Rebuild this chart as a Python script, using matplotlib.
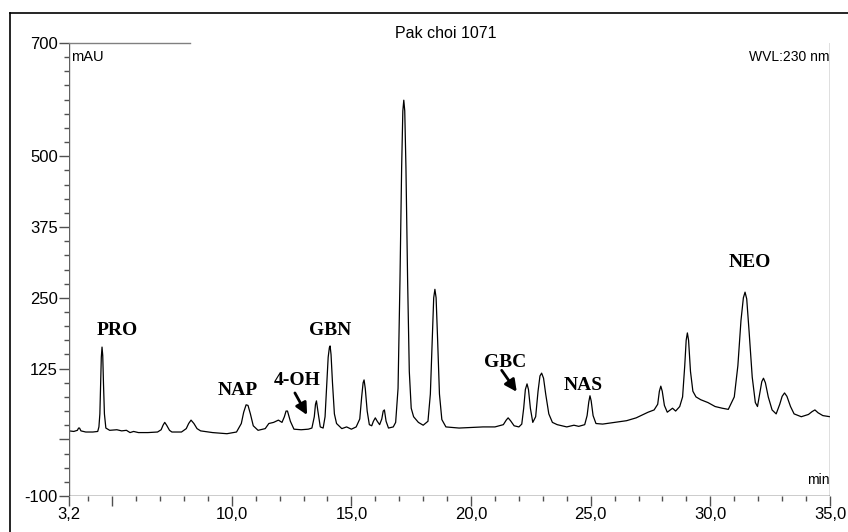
import matplotlib
matplotlib.use("Agg")
import matplotlib.pyplot as plt
from matplotlib.lines import Line2D

# retention time (min) and absorbance (mAU)
rt = [3.2, 3.4, 3.55, 3.6, 3.64, 3.7, 3.9, 4.2, 4.4,
      4.45, 4.49, 4.52, 4.55, 4.58, 4.61, 4.64, 4.68, 4.74,
      4.9, 5.2, 5.4, 5.6, 5.75, 5.9, 6.1, 6.5, 6.9,
      7.05, 7.13, 7.2, 7.28, 7.4, 7.5, 7.9,
      8.1, 8.2, 8.3, 8.42, 8.55, 8.7, 9.2, 9.8, 10.2,
      10.4, 10.5, 10.6, 10.68, 10.78, 10.9, 11.1, 11.4,
      11.55, 11.75, 11.95, 12.1, 12.2, 12.27, 12.33, 12.45, 12.6, 12.9, 13.2,
      13.35, 13.45, 13.5, 13.54, 13.6, 13.7,
      13.82, 13.9, 13.97, 14.03, 14.08, 14.11, 14.15, 14.21, 14.29, 14.38,
      14.6, 14.8, 15.0, 15.2, 15.35, 15.43, 15.49, 15.53, 15.58, 15.66, 15.75,
      15.85, 15.92, 16.0, 16.08, 16.18, 16.27, 16.33, 16.38, 16.45, 16.55,
      16.75, 16.85, 16.95, 17.03, 17.1, 17.15, 17.19, 17.23, 17.28, 17.35,
      17.42, 17.5, 17.6, 17.8, 18.0,
      18.2, 18.3, 18.38, 18.44, 18.49, 18.54, 18.6, 18.68, 18.78, 18.95,
      19.5, 20.0, 20.5, 21.0, 21.35, 21.47, 21.55, 21.65, 21.8, 22.0,
      22.12, 22.2, 22.27, 22.34, 22.4, 22.48, 22.58,
      22.7, 22.8, 22.88, 22.95, 23.03, 23.12, 23.25, 23.4,
      23.6, 24.0, 24.3, 24.5, 24.75,
      24.85, 24.92, 24.97, 25.02, 25.1, 25.22, 25.5, 26.0, 26.5,
      26.9, 27.2, 27.4, 27.65, 27.8, 27.87, 27.93, 27.99, 28.08, 28.2,
      28.33, 28.42, 28.55, 28.72,
      28.84, 28.93, 28.99, 29.04, 29.09, 29.17, 29.27, 29.4,
      29.6, 29.9, 30.2, 30.5, 30.75,
      31.0, 31.15, 31.28, 31.38, 31.45, 31.52, 31.62, 31.75, 31.88, 31.97,
      32.07, 32.15, 32.22, 32.3, 32.42, 32.58, 32.75,
      32.9, 33.0, 33.1, 33.2, 33.35, 33.5, 33.8, 34.1, 34.25, 34.37, 34.5,
      34.7, 35.0]
mau = [15, 14, 16, 20, 20, 15, 13, 13, 14,
       22, 45, 95, 145, 163, 148, 100, 45, 20,
       16, 17, 15, 16, 12, 14, 12, 12, 13,
       17, 25, 30, 25, 16, 13, 13,
       19, 28, 34, 28, 19, 15, 12, 10, 13,
       28, 48, 61, 60, 45, 24, 16, 19,
       28, 30, 34, 30, 40, 50, 50, 32, 18, 17, 18,
       20, 40, 62, 68, 50, 22,
       20, 40, 95, 145, 162, 165, 150, 100, 45, 28,
       19, 22, 18, 22, 36, 75, 100, 105, 90, 50, 26,
       24, 32, 38, 32, 26, 36, 50, 52, 32, 20,
       22, 30, 90, 280, 480, 580, 599, 580, 480, 280,
       120, 55, 40, 30, 25,
       32, 80, 180, 250, 265, 250, 180, 80, 35, 22,
       20, 21, 22, 22, 26, 34, 38, 33, 24, 22,
       27, 55, 88, 98, 88, 55, 30,
       40, 85, 112, 117, 108, 80, 45, 30,
       26, 22, 25, 23, 26,
       42, 66, 77, 68, 42, 28, 27, 30, 33,
       38, 44, 48, 52, 62, 85, 94, 85, 60, 48,
       52, 55, 50, 58,
       75, 130, 175, 188, 175, 120, 85, 75,
       70, 65, 58, 55, 53,
       75, 130, 210, 250, 260, 248, 190, 110, 65, 58,
       82, 102, 108, 100, 75, 52, 45,
       62, 76, 82, 76, 58, 45, 40, 44, 49, 52, 47,
       42, 40]

# peak names and where they are written
peak_names = ["PRO", "NAP", "4-OH", "GBN", "GBC", "NAS", "NEO"]
name_rt = [5.2, 10.25, 12.72, 14.1, 21.44, 24.7, 31.65]
name_mau = [192, 86, 104, 193, 136, 95, 313]

# arrows for the two small peaks: (tail rt, tail mau, head rt, head mau)
arrows = [(12.64, 82, 13.15, 43), (21.28, 122, 21.91, 84)]

x_major = [3.2, 5, 10, 15, 20, 25, 30, 35]
x_labels = ["3,2", "", "10,0", "15,0", "20,0", "25,0", "30,0", "35,0"]
x_minor = [4, 6, 7, 8, 9, 11, 12, 13, 14, 16, 17, 18, 19, 21, 22, 23, 24,
           26, 27, 28, 29, 31, 32, 33, 34]
y_major = [-100, 0, 125, 250, 375, 500, 700]
y_labels = ["-100", "", "125", "250", "375", "500", "700"]
y_minor = list(range(-75, 700, 25))

W, H = 848, 532
fig = plt.figure(figsize=(W / 100, H / 100), dpi=100)
ax = fig.add_axes([69 / W, (H - 496) / H, (830 - 69) / W, (496 - 43) / H])

ax.plot(rt, mau, color="black", lw=0.9)
ax.set_xlim(3.2, 35.0)
ax.set_ylim(-100, 700)

for s in ["top", "right", "left", "bottom"]:
    ax.spines[s].set_visible(False)
ax.axvline(3.2, color="#606060", lw=1.0)
ax.axvline(35.0, color="#606060", lw=1.0)
ax.axhline(-100, color="black", lw=1.0)
ax.plot([3.2, 8.25], [700, 700], color="#808080", lw=1.0, clip_on=False)

ax.set_xticks(x_major)
ax.set_xticklabels(x_labels)
ax.set_xticks(x_minor, minor=True)
ax.set_yticks(y_major)
ax.set_yticklabels(y_labels)
ax.set_yticks(y_minor, minor=True)
ax.tick_params(which="major", length=7, width=1, color="#505050",
               labelsize=12, pad=1)
ax.tick_params(which="minor", length=3.5, width=1, color="#505050")
for lab in ax.get_xticklabels() + ax.get_yticklabels():
    lab.set_fontfamily("Liberation Sans")

ax.text(3.3, 688, "mAU", ha="left", va="top", fontsize=10.5,
        family="Liberation Sans")
ax.text(34.97, 688, "WVL:230 nm", ha="right", va="top", fontsize=10,
        family="Liberation Sans")
ax.text(34.97, -84, "min", ha="right", va="bottom", fontsize=10,
        family="Liberation Sans")
fig.text(446 / W, 1 - 33 / H, "Pak choi 1071", ha="center", va="center",
         fontsize=11.5, family="Liberation Sans")

for name, x, y in zip(peak_names, name_rt, name_mau):
    ax.text(x, y, name, ha="center", va="center", fontsize=14,
            fontweight="bold", family="Liberation Serif")

for x0, y0, x1, y1 in arrows:
    ax.annotate("", xy=(x1, y1), xytext=(x0, y0),
                arrowprops=dict(arrowstyle="-|>,head_length=0.7,head_width=0.35",
                                color="black", lw=2, shrinkA=0, shrinkB=0))

# outer frame, cut by the right and bottom edges
fig.add_artist(Line2D([10 / W, 10 / W], [0, 1 - 13 / H], color="black", lw=1.2))
fig.add_artist(Line2D([10 / W, 1], [1 - 13 / H, 1 - 13 / H], color="black", lw=1.2))

fig.savefig("out.png", dpi=100)
